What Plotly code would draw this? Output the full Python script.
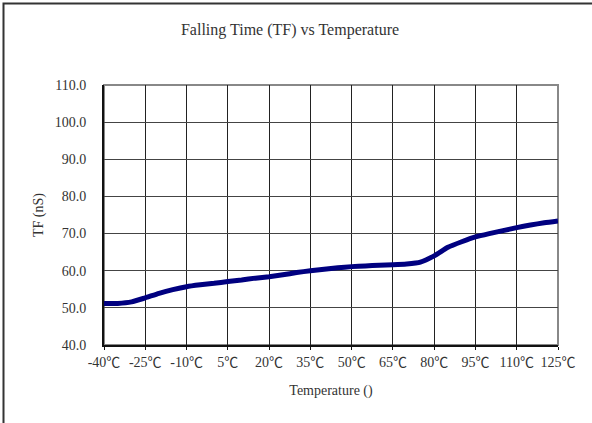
import plotly.graph_objects as go

temps = [-40, -35, -30, -25, -20, -15, -10, -5, 0, 5, 10, 15, 20, 25, 30, 35, 40, 45,
         50, 55, 60, 65, 70, 75, 80, 85, 90, 95, 100, 105, 110, 115, 120, 125]
tf_ns = [51.2, 51.2, 51.6, 52.7, 53.9, 54.9, 55.7, 56.2, 56.6, 57.1, 57.5, 58.0, 58.4, 58.9,
         59.5, 60.0, 60.4, 60.8, 61.1, 61.3, 61.5, 61.6, 61.8, 62.3, 64.0, 66.3, 67.8, 69.1,
         70.0, 70.8, 71.6, 72.3, 72.9, 73.4]
tick_vals = [-40, -25, -10, 5, 20, 35, 50, 65, 80, 95, 110, 125]
tick_text = [f"{v}℃" for v in tick_vals]

W, H = 592, 423
L, R, T, B = 104, 34, 85, 78
pw, ph = W - L - R, H - T - B

fig = go.Figure()
fig.add_trace(go.Scatter(
    x=temps, y=tf_ns, mode="lines",
    line=dict(color="#000080", width=5, shape="spline", smoothing=0.6),
    showlegend=False, hoverinfo="x+y",
))

font = "Liberation Serif, Times New Roman, Noto Sans CJK TC, serif"
fig.update_layout(
    width=W, height=H,
    margin=dict(l=L, r=R, t=T, b=B),
    paper_bgcolor="white", plot_bgcolor="white",
    font=dict(family=font, size=14, color="#333"),
    title=dict(text="Falling Time (TF) vs Temperature", x=290 / W, xanchor="center",
               y=1 - 29 / H, yanchor="middle", font=dict(size=16, family=font, color="#333")),
    xaxis=dict(range=[-40, 125], tickvals=tick_vals, ticktext=tick_text,
               showgrid=True, gridcolor="#222", gridwidth=1, zeroline=False,
               showline=True, linecolor="#111", linewidth=2,
               ticks="outside", ticklen=3, tickcolor="#111",
               ticklabelstandoff=0,
               title=dict(text="Temperature ()", standoff=16, font=dict(size=14)),
               tickfont=dict(size=14)),
    yaxis=dict(range=[40, 110], dtick=10, tick0=40, tickformat=".1f",
               showgrid=True, gridcolor="#444", gridwidth=1, zeroline=False,
               showline=True, linecolor="#111", linewidth=2,
               ticks="", ticklabelstandoff=13,
               title=dict(text="TF (nS)", standoff=8, font=dict(size=14)),
               tickfont=dict(size=14)),
    shapes=[
        dict(type="rect", xref="paper", yref="paper", x0=0, x1=1, y0=0, y1=1,
             line=dict(color="#888", width=2), layer="below"),
        dict(type="rect", xref="paper", yref="paper",
             x0=(3.5 - L) / pw, x1=1.3, y0=-0.5, y1=(H - B - 3.5) / ph,
             line=dict(color="#333", width=2), layer="below"),
    ],
)

fig.write_html("out.html")
